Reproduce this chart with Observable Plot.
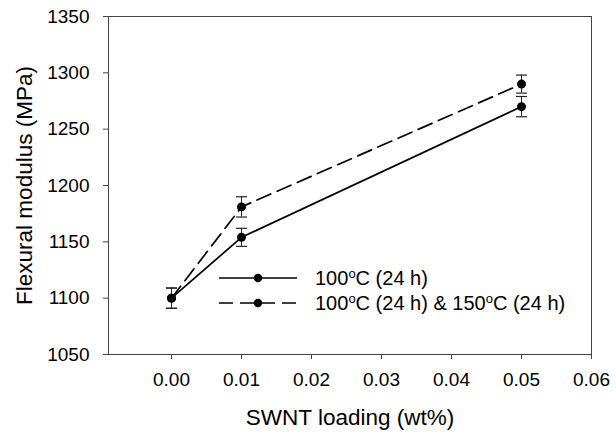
<!DOCTYPE html>
<html>
<head>
<meta charset="utf-8">
<script src="https://cdn.jsdelivr.net/npm/d3@7"></script>
<script src="https://cdn.jsdelivr.net/npm/@observablehq/plot@0.6"></script>
<style>
  html, body { margin: 0; padding: 0; background: #fff; }
  #wrap { position: relative; width: 616px; height: 438px; font-family: "Liberation Sans", Arial, sans-serif; }
  #legend { position: absolute; left: 219px; top: 265px; font-size: 20px; color: #000; }
  .row { display: flex; align-items: center; height: 25px; }
  .row svg { margin-right: 18px; }
  sup { font-size: 13px; vertical-align: 7px; }
  g[aria-label="y-axis label"] text, g[aria-label="x-axis label"] text { font-size: 22.5px; }
</style>
</head>
<body>
<div id="wrap"></div>
<script>
const loading = [0.00, 0.01, 0.05];
const modulus100 = [1100, 1154, 1270];
const error100 = [9, 8, 9];
const modulus150 = [1100, 1181, 1290];
const error150 = [9, 9, 8];
const xTicks = [0.00, 0.01, 0.02, 0.03, 0.04, 0.05, 0.06];
const yTicks = [1050, 1100, 1150, 1200, 1250, 1300, 1350];
const seriesNames = ["100ºC (24 h)", "100ºC (24 h) & 150ºC (24 h)"];

const s100 = loading.map((x, i) => ({x, y: modulus100[i], e: error100[i]}));
const s150 = loading.map((x, i) => ({x, y: modulus150[i], e: error150[i]}));
const all = [...s100, ...s150];

const cap = { draw(ctx) { ctx.moveTo(-5.5, 0); ctx.lineTo(5.5, 0); } };

const chart = Plot.plot({
  width: 616,
  height: 438,
  marginLeft: 108,
  marginRight: 25,
  marginTop: 16,
  marginBottom: 84,
  style: { fontFamily: "Liberation Sans, Arial, sans-serif", fontSize: "19px", color: "#000", background: "#fff" },
  x: { domain: [-0.009, 0.06] },
  y: { domain: [1050, 1350] },
  marks: [
    Plot.frame({ stroke: "#444", strokeWidth: 1 }),
    Plot.axisY({ ticks: yTicks, tickSize: 5, tickPadding: 14, tickFormat: d => String(d), stroke: "#444", fill: "#000",
      label: "Flexural modulus (MPa)", labelAnchor: "center", labelArrow: "none", labelOffset: 92 }),
    Plot.axisX({ ticks: xTicks, tickSize: 5, tickPadding: 13, tickFormat: d3.format(".2f"), stroke: "#444", fill: "#000",
      label: "SWNT loading (wt%)", labelAnchor: "center", labelArrow: "none", labelOffset: 70 }),
    Plot.line(s100, { x: "x", y: "y", stroke: "#000", strokeWidth: 1.7 }),
    Plot.line(s150, { x: "x", y: "y", stroke: "#000", strokeWidth: 1.7, strokeDasharray: "15,7" }),
    Plot.ruleX(all, { x: "x", y1: d => d.y - d.e, y2: d => d.y + d.e, stroke: "#222", strokeWidth: 1 }),
    Plot.dot(all, { x: "x", y: d => d.y - d.e, symbol: cap, stroke: "#222", strokeWidth: 1.2, fill: "none" }),
    Plot.dot(all, { x: "x", y: d => d.y + d.e, symbol: cap, stroke: "#222", strokeWidth: 1.2, fill: "none" }),
    Plot.dot(all, { x: "x", y: "y", r: 4.5, fill: "#000", stroke: "none" })
  ]
});

const wrap = document.getElementById("wrap");
wrap.appendChild(chart);

const legend = document.createElement("div");
legend.id = "legend";
const dashes = ["", "14,7"];
seriesNames.forEach((name, i) => {
  const row = document.createElement("div");
  row.className = "row";
  const label = name.replace(/º/g, "<sup>o</sup>");
  row.innerHTML = `<svg width="78" height="12"><line x1="0" y1="6" x2="78" y2="6" stroke="#000" stroke-width="1.7" stroke-dasharray="${dashes[i]}"/><circle cx="39" cy="6" r="4.2" fill="#000"/></svg><span>${label}</span>`;
  legend.appendChild(row);
});
wrap.appendChild(legend);
</script>
</body>
</html>
